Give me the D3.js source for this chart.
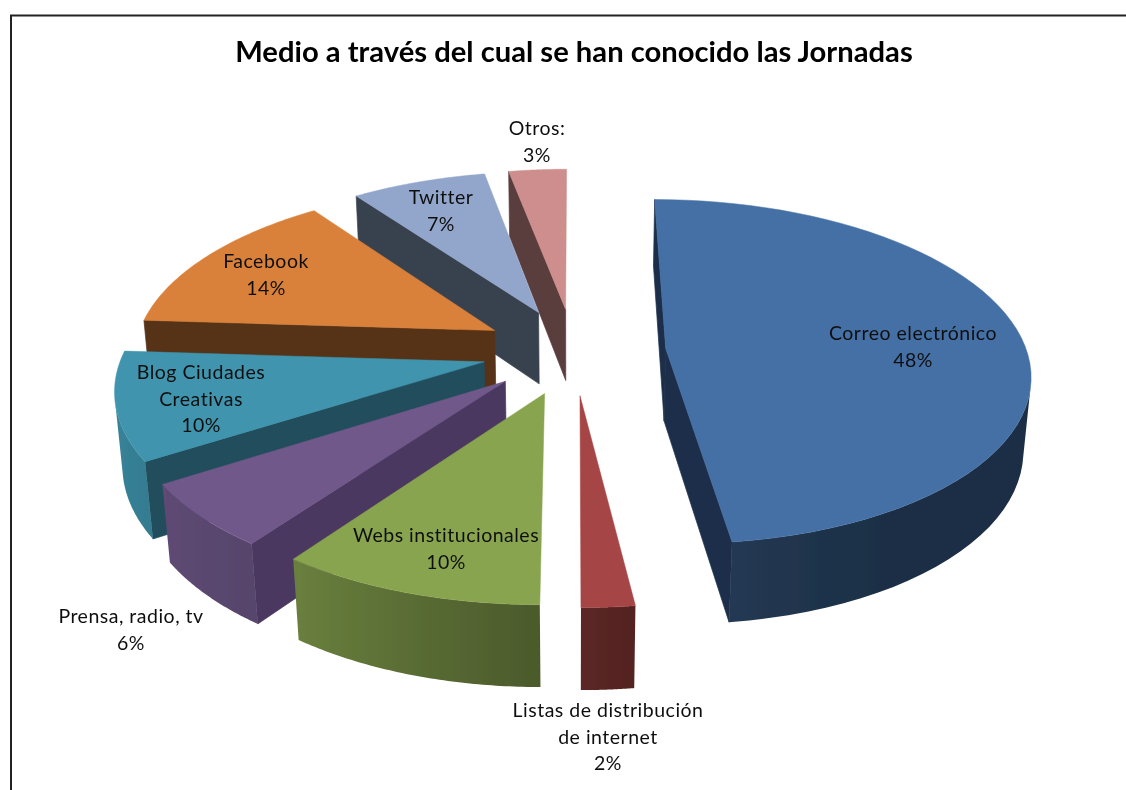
<!DOCTYPE html>
<html><head><meta charset="utf-8">
<script src="https://cdn.jsdelivr.net/npm/d3@7/dist/d3.min.js"></script>
<style>html,body{margin:0;padding:0;background:#fff;overflow:hidden}svg{display:block}</style>
</head><body><svg id="c" width="1126" height="790"></svg>
<script>
const titleText = "Medio a través del cual se han conocido las Jornadas";
const categories = ["Correo electrónico","Listas de distribución de internet","Webs institucionales","Prensa, radio, tv","Blog Ciudades Creativas","Facebook","Twitter","Otros:"];
const values = [48,2,10,6,10,14,7,3];
const labelLines = [["Correo electrónico"],["Listas de distribución","de internet"],["Webs institucionales"],["Prensa, radio, tv"],["Blog Ciudades","Creativas"],["Facebook"],["Twitter"],["Otros:"]];
const topColors = ["#4470A5","#A64544","#88A44F","#70588A","#3F94AD","#D9803A","#92A6CC","#CD8E8D"];
const edgeColors = ["#1D2F49","#562320","#4F5D2B","#4B3860","#214D5B","#573217","#39434F","#5A3C3C"];
const labelCenters = [[913,334],[608,711],[446,536],[131,617],[201,373],[266,262],[441,198],[537,129]];
const paintOrder = [7,6,5,4,3,2,1,0];

// projection of the tilted, exploded pie
const W=1126,H=790, cx=574, cy=351, R=361, E=92, depth=84, minWall=500;
const tilt=Math.asin(0.47), camD=R*Math.cos(tilt)/0.136;
function proj(X,Y,Z){
  const yc=Y*Math.sin(tilt)+Z*Math.cos(tilt), zc=camD+Y*Math.cos(tilt)-Z*Math.sin(tilt), s=camD/zc;
  return [cx+X*s, cy-yc*s];
}
const shade=d3.scaleLinear().domain([0,150,172,216,270,360].map(d=>d*Math.PI/180)).range([.42,.42,.5,.78,.93,.93]);
const line=d3.line();
const svg=d3.select("#c");
const defs=svg.append("defs");
defs.append("filter").attr("id","soft").attr("filterUnits","userSpaceOnUse")
  .attr("x",0).attr("y",0).attr("width",W).attr("height",H)
  .append("feGaussianBlur").attr("stdDeviation",0.45);
const root=svg.append("g").attr("filter","url(#soft)");
root.append("rect").attr("width",W).attr("height",H).attr("fill","#fff");
root.append("path").attr("d",line([[11,H],[11,15.5],[W,15.5]])).attr("fill","none").attr("stroke","#222").attr("stroke-width",2);

root.append("text").attr("x",574).attr("y",62).attr("text-anchor","middle")
  .attr("font-family","Lato, 'Open Sans', sans-serif").attr("font-weight",700).attr("font-size",29.2).attr("fill","#000").text(titleText);

const arcs=d3.pie().sort(null).value(d=>d)(values);
const g=root.append("g");
const facing=p=>d3.polygonArea(p);
paintOrder.forEach(i=>{
  const a=arcs[i], mid=(a.startAngle+a.endAngle)/2;
  const ox=E*Math.sin(mid), oy=E*Math.cos(mid);
  const pt=(ang,r,z)=>proj(ox+r*Math.sin(ang),oy+r*Math.cos(ang),z);
  const s=g.append("g");
  const wall=(pts,fill)=>s.append("path").attr("d",line(pts)+"Z").attr("fill",fill).attr("stroke",fill).attr("stroke-width",.7);
  const w0=[pt(0,0,0),pt(a.startAngle,R,0),pt(a.startAngle,R,-depth),pt(0,0,-depth)];
  const w1=[pt(0,0,0),pt(a.endAngle,R,0),pt(a.endAngle,R,-depth),pt(0,0,-depth)];
  if(facing(w0)>minWall) wall(w0,edgeColors[i]);
  if(facing(w1)<-minWall) wall(w1,edgeColors[i]);
  const angs=d3.range(0,61).map(k=>a.startAngle+(a.endAngle-a.startAngle)*k/60);
  // curved wall: one shape, shaded left to right through a gradient
  const seen=angs.filter((u,k)=>{
    const v=angs[Math.min(k+1,60)], w=angs[Math.max(k-1,0)];
    const q=k<60?[pt(u,R,0),pt(v,R,0),pt(v,R,-depth),pt(u,R,-depth)]:[pt(w,R,0),pt(u,R,0),pt(u,R,-depth),pt(w,R,-depth)];
    return facing(q)>0;
  });
  if(seen.length>1){
    const tops=seen.map(u=>pt(u,R,0)), bots=seen.map(u=>pt(u,R,-depth));
    const xs=tops.map(p=>p[0]), x0=d3.min(xs), x1=d3.max(xs);
    const c=d3.rgb(topColors[i]);
    const gr=defs.append("linearGradient").attr("id","w"+i).attr("gradientUnits","userSpaceOnUse")
      .attr("x1",x0).attr("x2",x1).attr("y1",0).attr("y2",0);
    const stops=seen.map((u,k)=>({o:(xs[k]-x0)/(x1-x0),k:shade(u)})).sort((p,q)=>p.o-q.o);
    stops.forEach(d=>gr.append("stop").attr("offset",d.o).attr("stop-color",d3.rgb(c.r*d.k,c.g*d.k,c.b*d.k).formatHex()));
    s.append("path").attr("d",line(tops.concat(bots.reverse()))+"Z").attr("fill","url(#w"+i+")");
  }
  const face=[pt(0,0,0)].concat(angs.map(t=>pt(t,R,0)));
  s.append("path").attr("d",line(face)+"Z").attr("fill",topColors[i]).attr("stroke",topColors[i]).attr("stroke-width",.5);
});

const lab=root.append("g").attr("font-family","Lato, 'Open Sans', sans-serif").attr("font-size",19.5).attr("letter-spacing",.5).attr("fill","#111").attr("text-anchor","middle");
categories.forEach((c,i)=>{
  const t=lab.append("text");
  const lines=labelLines[i].concat([values[i]+"%"]);
  lines.forEach((l,k)=>t.append("tspan").attr("x",labelCenters[i][0]).attr("y",labelCenters[i][1]+6+k*26.6).text(l));
});
</script></body></html>
